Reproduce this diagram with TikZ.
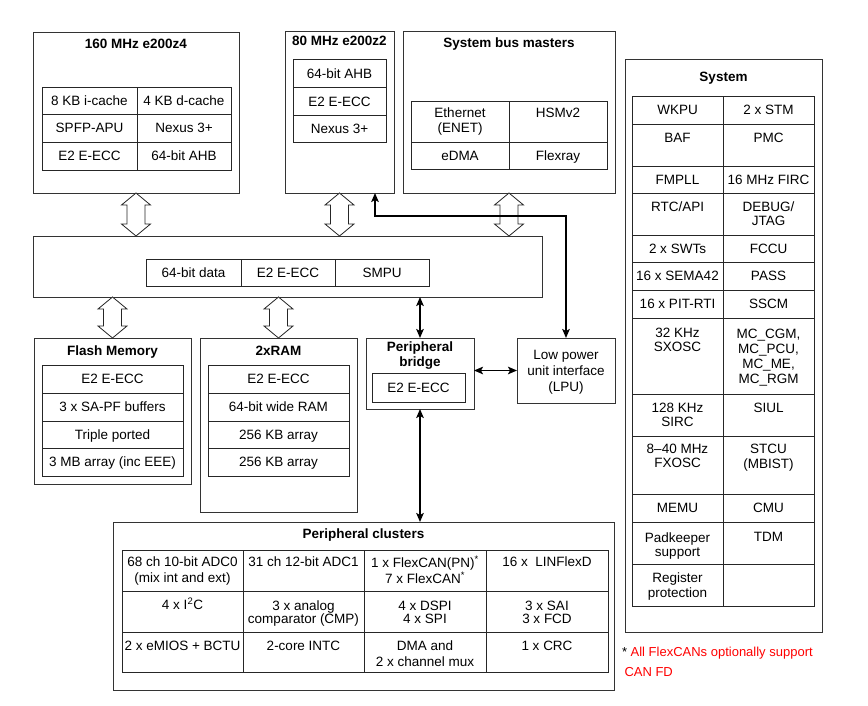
\documentclass[tikz,border=0pt]{standalone}
\usepackage{fontspec}
\setmainfont{Liberation Sans}
\usetikzlibrary{calc,arrows.meta}
\tikzset{
  boxst/.style={draw=black!80, line width=0.9pt, fill=white, inner sep=0pt, outer sep=0pt},
  cellst/.style={draw=black!85, line width=0.9pt, inner sep=0pt, outer sep=0pt},
  txt/.style={font=\fontsize{13.5}{15}\selectfont, align=center, inner sep=0pt, outer sep=0pt,
    execute at begin node={\rule{0pt}{10pt}}, execute at end node={\rule[-3pt]{0pt}{3pt}}},
  ttl/.style={txt, font=\fontsize{13.5}{15}\selectfont\bfseries},
  fnst/.style={txt, font=\fontsize{13}{15}\selectfont, align=left, text=red},
  thk/.style={line width=1.8pt, draw=black, {Stealth[length=9pt,width=7.5pt,inset=2pt]}-{Stealth[length=9pt,width=7.5pt,inset=2pt]}},
  hol/.style={draw=black!85, line width=0.8pt, fill=white, line join=miter},
}
\newcommand\boxnode[5]{\node[boxst, minimum width={#4-#2}, minimum height={#5-#3}] (#1) at ({(#2+#4)/2},{(#3+#5)/2}) {};}
\newcommand\tcell[7]{\node[cellst, minimum width={#4-#2}, minimum height={#5-#3}] (#1) at ({(#2+#4)/2},{(#3+#5)/2}) {};
  \node[txt] (#1t) at ({(#2+#4)/2},{#6+1.3}) {#7};}
\newcommand\holarrow[2]{\path[hol] let \p1=#1, \p2=#2 in
  (\x1,\y1) -- (\x1+14.5pt,\y1-12pt) -- (\x1+9pt,\y1-12pt) -- (\x1+9pt,\y2+12pt) -- (\x1+14.5pt,\y2+12pt)
  -- (\x1,\y2) -- (\x1-14.5pt,\y2+12pt) -- (\x1-9pt,\y2+12pt) -- (\x1-9pt,\y1-12pt) -- (\x1-14.5pt,\y1-12pt) -- cycle;}
\begin{document}
\begin{tikzpicture}[x=1pt,y=-1pt]
\path[fill=white] (0,0) rectangle (868,705);
\useasboundingbox (0,0) rectangle (868,705);

% ---- 160 MHz e200z4
\boxnode{z4}{33}{32}{239}{193}
\node[ttl] (z4title) at (136,45) {160 MHz e200z4};
\tcell{z4a}{42}{87}{137}{114}{100.5}{8 KB i-cache}
\tcell{z4b}{137}{87}{231}{114}{100.5}{4 KB d-cache}
\tcell{z4c}{42}{114}{137}{142}{128}{SPFP-APU}
\tcell{z4d}{137}{114}{231}{142}{128}{Nexus 3+}
\tcell{z4e}{42}{142}{137}{170}{156}{E2 E-ECC}
\tcell{z4f}{137}{142}{231}{170}{156}{64-bit AHB}

% ---- 80 MHz e200z2
\boxnode{z2}{285}{31}{394}{193}
\node[ttl] (z2title) at (339.5,42) {80 MHz e200z2};
\tcell{z2a}{293}{59}{386}{87}{73.5}{64-bit AHB}
\tcell{z2b}{293}{87}{386}{115}{101.5}{E2 E-ECC}
\tcell{z2c}{293}{115}{386}{142}{128.5}{Nexus 3+}

% ---- System bus masters
\boxnode{sbm}{403}{31}{615}{193}
\node[ttl] (sbmtitle) at (509,44) {System bus masters};
\tcell{sbma}{411}{101}{509}{142}{120}{Ethernet\\(ENET)}
\tcell{sbmb}{509}{101}{607}{142}{113}{HSMv2}
\tcell{sbmc}{411}{142}{509}{169}{156}{eDMA}
\tcell{sbmd}{509}{142}{607}{169}{156}{Flexray}

% ---- crossbar
\boxnode{xbar}{33}{236}{542}{297}
\tcell{xba}{146}{259}{241}{286}{272.5}{64-bit data}
\tcell{xbb}{241}{259}{335}{286}{272.5}{E2 E-ECC}
\tcell{xbc}{335}{259}{429}{286}{272.5}{SMPU}

% ---- Flash Memory
\boxnode{flash}{34}{338}{191}{484}
\node[ttl] (flashtitle) at (112.5,352) {Flash Memory};
\tcell{fla}{42}{365}{183}{393}{379}{E2 E-ECC}
\tcell{flb}{42}{393}{183}{421}{407}{3 x SA-PF buffers}
\tcell{flc}{42}{421}{183}{448}{434.5}{Triple ported}
\tcell{fld}{42}{448}{183}{476}{462}{3 MB array (inc EEE)}

% ---- 2xRAM
\boxnode{ram}{200}{338}{357}{512}
\node[ttl] (ramtitle) at (278.5,352) {2xRAM};
\tcell{rma}{208}{365}{349}{393}{379}{E2 E-ECC}
\tcell{rmb}{208}{393}{349}{421}{407}{64-bit wide RAM}
\tcell{rmc}{208}{421}{349}{448}{434.5}{256 KB array}
\tcell{rmd}{208}{448}{349}{476}{462}{256 KB array}

% ---- Peripheral bridge
\boxnode{bridge}{366}{338}{474}{409}
\node[ttl] (bridgetitle) at (420,355.5) {Peripheral\\bridge};
\tcell{bra}{372}{373}{465}{402}{387.5}{E2 E-ECC}

% ---- LPU
\boxnode{lpu}{517}{338}{615}{403}
\node[txt] (lput) at (566,372.3) {Low power\\[1pt]unit interface\\[1pt](LPU)};

% ---- Peripheral clusters
\boxnode{pc}{113}{522}{614}{690}
\node[ttl] (pctitle) at (363.5,535) {Peripheral clusters};
\tcell{pca}{122}{550}{243}{591}{570}{68 ch 10-bit ADC0\\[1pt](mix int and ext)}
\tcell{pcb}{243}{550}{364}{591}{562}{31 ch 12-bit ADC1}
\tcell{pcc}{364}{550}{486}{591}{570}{1 x FlexCAN(PN)\textsuperscript{*}\\[1pt]7 x FlexCAN\textsuperscript{*}}
\tcell{pcd}{486}{550}{608}{591}{562}{16 x~ LINFlexD}
\tcell{pce}{122}{591}{243}{632}{604}{4 x I\textsuperscript{2}C}
\tcell{pcf}{243}{591}{364}{632}{612.5}{3 x analog\\[-2pt]comparator (CMP)}
\tcell{pcg}{364}{591}{486}{632}{612.5}{4 x DSPI\\[-2pt]4 x SPI}
\tcell{pch}{486}{591}{608}{632}{612.5}{3 x SAI\\[-2pt]3 x FCD}
\tcell{pci}{122}{632}{243}{672}{646}{2 x eMIOS + BCTU}
\tcell{pcj}{243}{632}{364}{672}{646}{2-core INTC}
\tcell{pck}{364}{632}{486}{672}{654}{DMA and\\[1pt]2 x channel mux}
\tcell{pcl}{486}{632}{608}{672}{646}{1 x CRC}

% ---- System
\boxnode{sys}{625}{59}{822}{632}
\node[ttl] (systitle) at (723.5,78) {System};
\tcell{sy1a}{632}{96}{723}{124}{110}{WKPU}
\tcell{sy1b}{723}{96}{814}{124}{110}{2 x STM}
\tcell{sy2a}{632}{124}{723}{166}{138}{BAF}
\tcell{sy2b}{723}{124}{814}{166}{138}{PMC}
\tcell{sy3a}{632}{166}{723}{193}{179.5}{FMPLL}
\tcell{sy3b}{723}{166}{814}{193}{179.5}{16 MHz FIRC}
\tcell{sy4a}{632}{193}{723}{235}{207}{RTC/API}
\tcell{sy4b}{723}{193}{814}{235}{214}{DEBUG/\\[-1pt]JTAG}
\tcell{sy5a}{632}{235}{723}{262}{248.5}{2 x SWTs}
\tcell{sy5b}{723}{235}{814}{262}{248.5}{FCCU}
\tcell{sy6a}{632}{262}{723}{290}{276}{16 x SEMA42}
\tcell{sy6b}{723}{262}{814}{290}{276}{PASS}
\tcell{sy7a}{632}{290}{723}{318}{304}{16 x PIT-RTI}
\tcell{sy7b}{723}{290}{814}{318}{304}{SSCM}
\tcell{sy8a}{632}{318}{723}{394}{340}{32 KHz\\[-1pt]SXOSC}
\tcell{sy8b}{723}{318}{814}{394}{356}{MC\_CGM,\\MC\_PCU,\\MC\_ME,\\MC\_RGM}
\tcell{sy9a}{632}{394}{723}{436}{415}{128 KHz\\[-1pt]SIRC}
\tcell{sy9b}{723}{394}{814}{436}{408}{SIUL}
\tcell{sy10a}{632}{436}{723}{494}{456}{8–40 MHz\\[-1pt]FXOSC}
\tcell{sy10b}{723}{436}{814}{494}{456.5}{STCU\\(MBIST)}
\tcell{sy11a}{632}{494}{723}{522}{508}{MEMU}
\tcell{sy11b}{723}{494}{814}{522}{508}{CMU}
\tcell{sy12a}{632}{522}{723}{564}{544.5}{Padkeeper\\[-1pt]support}
\tcell{sy12b}{723}{522}{814}{564}{537}{TDM}
\tcell{sy13a}{632}{564}{723}{606}{585.5}{Register\\protection}
\tcell{sy13b}{723}{564}{814}{606}{585}{}

% ---- footnote
\node[fnst, anchor=west] (fn) at (622,663.3) {{\color{black}*} All FlexCANs optionally support\\[5pt]\hspace{2.5pt}CAN FD};

% ---- hollow bus arrows
\holarrow{(z4.south)}{(z4.south |- xbar.north)}
\holarrow{(z2.south)}{(z2.south |- xbar.north)}
\holarrow{(sbm.south)}{(sbm.south |- xbar.north)}
\holarrow{(flash.north |- xbar.south)}{(flash.north)}
\holarrow{(ram.north |- xbar.south)}{(ram.north)}

% ---- thick arrows
\coordinate (z2port) at (375,193);
\draw[thk] (z2port) -- ++(0,23) -| (lpu.north);
\draw[thk] (bridge.north |- xbar.south) -- (bridge.north);
\draw[thk] (bridge.east |- lpu.west) -- (lpu.west);
\draw[thk] (bridge.south) -- (bridge.south |- pc.north);
\end{tikzpicture}
\end{document}
